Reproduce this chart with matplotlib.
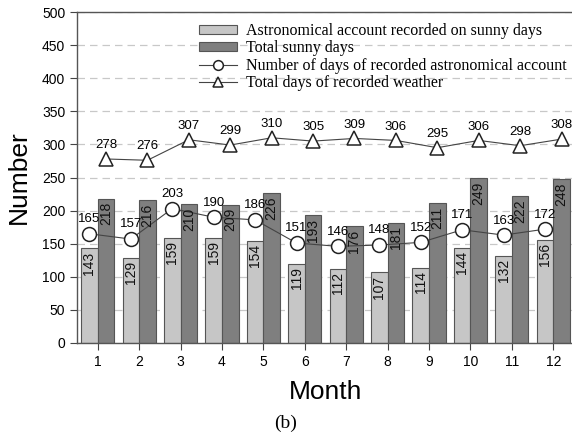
import matplotlib
matplotlib.use("Agg")
import matplotlib.pyplot as plt
import numpy as np

months = [1, 2, 3, 4, 5, 6, 7, 8, 9, 10, 11, 12]
astro_sunny = [143, 129, 159, 159, 154, 119, 112, 107, 114, 144, 132, 156]
total_sunny = [218, 216, 210, 209, 226, 193, 176, 181, 211, 249, 222, 248]
astro_days = [165, 157, 203, 190, 186, 151, 146, 148, 152, 171, 163, 172]
weather_days = [278, 276, 307, 299, 310, 305, 309, 306, 295, 306, 298, 308]

sans = ["Liberation Sans", "DejaVu Sans"]
serif = ["Liberation Serif", "DejaVu Serif"]

fig = plt.figure(figsize=(5.72, 4.42), dpi=100)
ax = fig.add_axes([77 / 572, 1 - 343 / 442, 497 / 572, 331 / 442])

x = np.array(months, dtype=float)
w = 0.4
light, dark = "#c6c6c6", "#7f7f7f"
edge = "#555555"
x_light = x - w / 2
x_dark = x + w / 2

b1 = ax.bar(x_light, astro_sunny, w, color=light, edgecolor=edge, linewidth=0.8,
            label="Astronomical account recorded on sunny days", zorder=2)
b2 = ax.bar(x_dark, total_sunny, w, color=dark, edgecolor=edge, linewidth=0.8,
            label="Total sunny days", zorder=2)

# each line sits over the centre of its companion bar
l1, = ax.plot(x_light, astro_days, "-o", color="#444444", lw=0.8, ms=10, mfc="white",
              mec="#222222", mew=1.1, zorder=4,
              label="Number of days of recorded astronomical account")
l2, = ax.plot(x_dark, weather_days, "-^", color="#444444", lw=0.8, ms=10, mfc="white",
              mec="#222222", mew=1.1, zorder=4,
              label="Total days of recorded weather")

# value labels inside the bars, rotated
for xi, v in zip(x_light, astro_sunny):
    ax.text(xi, v - 5, str(v), rotation=90, ha="center", va="top",
            fontsize=10, family=sans, color="#111111", zorder=5)
for xi, v in zip(x_dark, total_sunny):
    ax.text(xi, v - 5, str(v), rotation=90, ha="center", va="top",
            fontsize=10, family=sans, color="#111111", zorder=5)

# value labels above the line markers
for xi, v in zip(x_light, astro_days):
    ax.annotate(str(v), (xi, v), xytext=(0, 10.5), textcoords="offset points",
                ha="center", va="center", fontsize=9.5, family=sans, zorder=5)
for xi, v in zip(x_dark, weather_days):
    ax.annotate(str(v), (xi, v), xytext=(0, 10), textcoords="offset points",
                ha="center", va="center", fontsize=9.5, family=sans, zorder=5)

ax.set_xlim(0.5, 12.5)
ax.set_ylim(0, 500)
ax.set_xticks(months)
ax.set_yticks(np.arange(0, 501, 50))
ax.yaxis.grid(True, linestyle=(0, (6, 4)), color="#c8c8c8", lw=0.9, zorder=0)
ax.set_axisbelow(True)

for lab in ax.get_xticklabels() + ax.get_yticklabels():
    lab.set_family(sans)
    lab.set_fontsize(10)
ax.tick_params(direction="out", length=5, width=0.8, color="#444444")
for s in ax.spines.values():
    s.set_color("#555555")
    s.set_linewidth(1.0)
ax.spines["right"].set_visible(False)

ax.set_xlabel("Month", fontsize=19, family=sans, labelpad=8)
ax.set_ylabel("Number", fontsize=19, family=sans, labelpad=8)

ax.legend(handles=[b1, b2, l1, l2], loc="upper left",
          bbox_to_anchor=(0.222, 1.0), frameon=False,
          prop={"family": serif, "size": 11.5}, handlelength=2.4,
          handleheight=0.45, markerscale=0.7,
          handletextpad=0.6, labelspacing=0.08, borderaxespad=0.3)

fig.text(0.5, 1 - 423 / 442, "(b)", ha="center", va="center",
         fontsize=14, family=serif)

fig.savefig("out.png", dpi=100)
